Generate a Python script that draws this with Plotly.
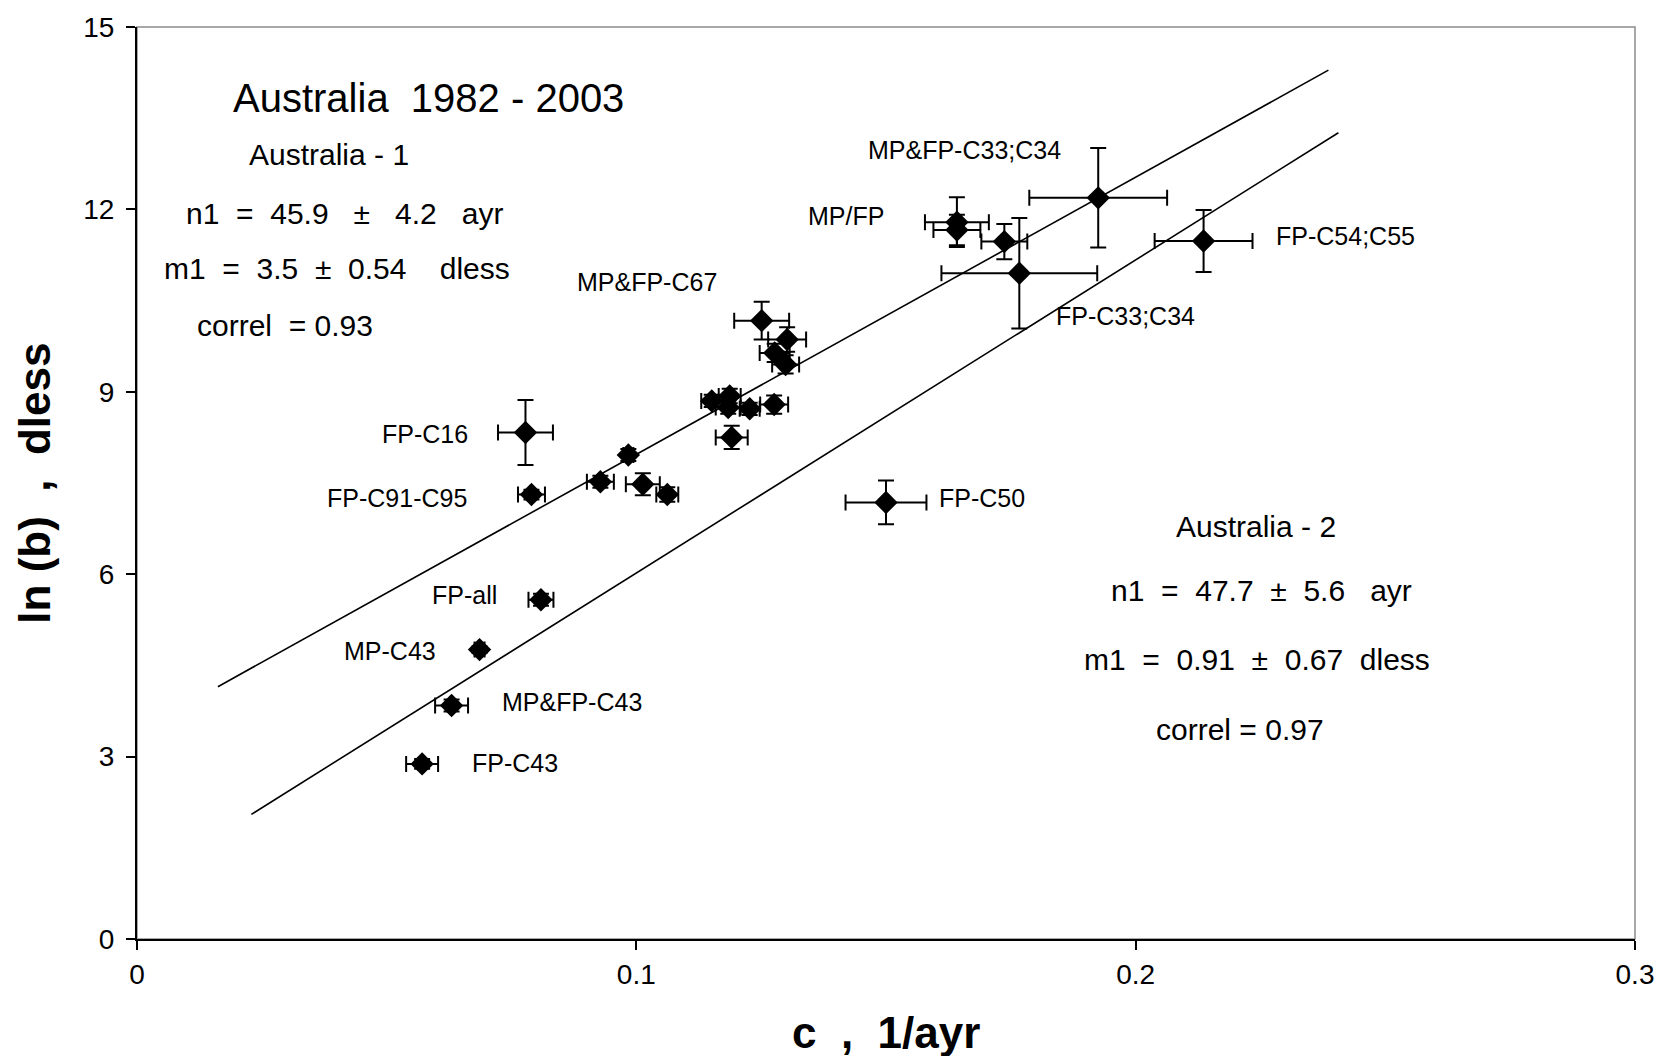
import plotly.graph_objects as go

# ---- data ----
c_vals = [0.0571, 0.0630, 0.0686, 0.0809, 0.0790, 0.0778, 0.0928, 0.0984, 0.1013, 0.1062,
          0.1151, 0.1187, 0.1184, 0.1227, 0.1276, 0.1191, 0.1251, 0.1302, 0.1277, 0.1299,
          0.1642, 0.1642, 0.1737, 0.1767, 0.1925, 0.2136, 0.1500]
lnb_vals = [2.88, 3.84, 4.76, 5.58, 7.31, 8.33, 7.52, 7.96, 7.48, 7.31,
            8.85, 8.93, 8.74, 8.72, 8.79, 8.25, 10.17, 9.86, 9.64, 9.45,
            11.79, 11.66, 11.47, 10.95, 12.19, 11.48, 7.18]
c_err = [0.0032, 0.0033, 0.0010, 0.0025, 0.0027, 0.0055, 0.0027, 0.0010, 0.0034, 0.0022,
         0.0021, 0.0022, 0.0025, 0.0020, 0.0028, 0.0032, 0.0055, 0.0038, 0.0030, 0.0027,
         0.0064, 0.0047, 0.0046, 0.0156, 0.0138, 0.0098, 0.0081]
lnb_err = [0.08, 0.10, 0.05, 0.10, 0.08, 0.535, 0.10, 0.10, 0.18, 0.12,
           0.10, 0.12, 0.10, 0.10, 0.15, 0.19, 0.31, 0.20, 0.15, 0.15,
           0.41, 0.25, 0.29, 0.91, 0.818, 0.51, 0.36]

line1_c = [0.0162, 0.2386]
line1_lnb = [4.15, 14.29]
line2_c = [0.0229, 0.2406]
line2_lnb = [2.05, 13.26]

point_labels = ["MP&FP-C33;C34", "MP/FP", "FP-C54;C55", "MP&FP-C67", "FP-C33;C34", "FP-C16",
                "FP-C91-C95", "FP-C50", "FP-all", "MP-C43", "MP&FP-C43", "FP-C43"]
label_c = [0.1657, 0.1420, 0.2420, 0.1022, 0.1979, 0.0577, 0.0520, 0.1693, 0.0656, 0.0507, 0.0872, 0.0758]
label_lnb = [12.98, 11.89, 11.56, 10.80, 10.24, 8.31, 7.26, 7.25, 5.66, 4.73, 3.89, 2.89]

block1 = ["Australia - 1", "n1  =  45.9   ±   4.2   ayr", "m1  =  3.5  ±  0.54    dless", "correl  = 0.93"]
block1_c = [0.0384, 0.0415, 0.0401, 0.0297]
block1_lnb = [12.90, 11.93, 11.02, 10.09]
block2 = ["Australia - 2", "n1  =  47.7  ±  5.6   ayr", "m1  =  0.91  ±  0.67  dless", "correl = 0.97"]
block2_c = [0.2240, 0.2252, 0.2242, 0.2209]
block2_lnb = [6.78, 5.74, 4.60, 3.44]
title_text = "Australia  1982 - 2003"

x_ticks = [0, 0.1, 0.2, 0.3]
x_ticktext = ["0", "0.1", "0.2", "0.3"]
y_ticks = [0, 3, 6, 9, 12, 15]

FONT = "Liberation Sans, Arial, sans-serif"


def nb(s):
    return s.replace(" ", "\u00a0")


fig = go.Figure()
fig.add_trace(go.Scatter(x=line1_c, y=line1_lnb, mode="lines",
                         line=dict(color="black", width=1.6), showlegend=False, hoverinfo="skip"))
fig.add_trace(go.Scatter(x=line2_c, y=line2_lnb, mode="lines",
                         line=dict(color="black", width=1.6), showlegend=False, hoverinfo="skip"))
fig.add_trace(go.Scatter(
    x=c_vals, y=lnb_vals, mode="markers",
    marker=dict(symbol="diamond", size=18, color="black", line=dict(width=0)),
    error_x=dict(type="data", array=c_err, color="black", thickness=2, width=8),
    error_y=dict(type="data", array=lnb_err, color="black", thickness=2, width=8),
    showlegend=False))

ann = []
for t, x, y in zip(point_labels, label_c, label_lnb):
    ann.append(dict(x=x, y=y, xref="x", yref="y", text=nb(t), showarrow=False,
                    font=dict(family=FONT, size=25, color="black")))
for t, x, y in zip(block1 + block2, block1_c + block2_c, block1_lnb + block2_lnb):
    ann.append(dict(x=x, y=y, xref="x", yref="y", text=nb(t), showarrow=False,
                    font=dict(family=FONT, size=30, color="black")))
ann.append(dict(x=0.0583, y=13.84, xref="x", yref="y", text=nb(title_text), showarrow=False,
                font=dict(family=FONT, size=40, color="black")))
ann.append(dict(x=0.5, y=-0.102, xref="paper", yref="paper", text=nb("c  ,  1/ayr"), showarrow=False,
                xanchor="center", yanchor="middle",
                font=dict(family=FONT, size=44, color="black", weight="bold")))
ann.append(dict(x=-0.069, y=0.5, xref="paper", yref="paper", text=nb("ln (b)  ,  dless"), showarrow=False,
                textangle=-90, xanchor="center", yanchor="middle",
                font=dict(family=FONT, size=44, color="black", weight="bold")))

fig.update_layout(
    width=1666, height=1056,
    margin=dict(l=137, r=27, t=22, b=117, pad=0),
    paper_bgcolor="white", plot_bgcolor="white",
    font=dict(family=FONT, size=28, color="black"),
    annotations=ann,
    shapes=[dict(type="rect", xref="paper", yref="paper", x0=0, y0=0, x1=1, y1=1,
                 line=dict(color="#8c8c8c", width=1.5), layer="below")],
    xaxis=dict(range=[0, 0.3], tickvals=x_ticks, ticktext=x_ticktext, showgrid=False, zeroline=False,
               showline=True, linecolor="black", linewidth=2, ticks="outside", ticklen=9,
               tickwidth=2, tickcolor="black", tickfont=dict(family=FONT, size=28)),
    yaxis=dict(range=[0, 15], tickvals=y_ticks, showgrid=False, zeroline=False,
               showline=True, linecolor="black", linewidth=2, ticks="outside", ticklen=9,
               tickwidth=2, tickcolor="black", tickfont=dict(family=FONT, size=28),
               ticklabelstandoff=6),
)

fig.write_html("out.html")
